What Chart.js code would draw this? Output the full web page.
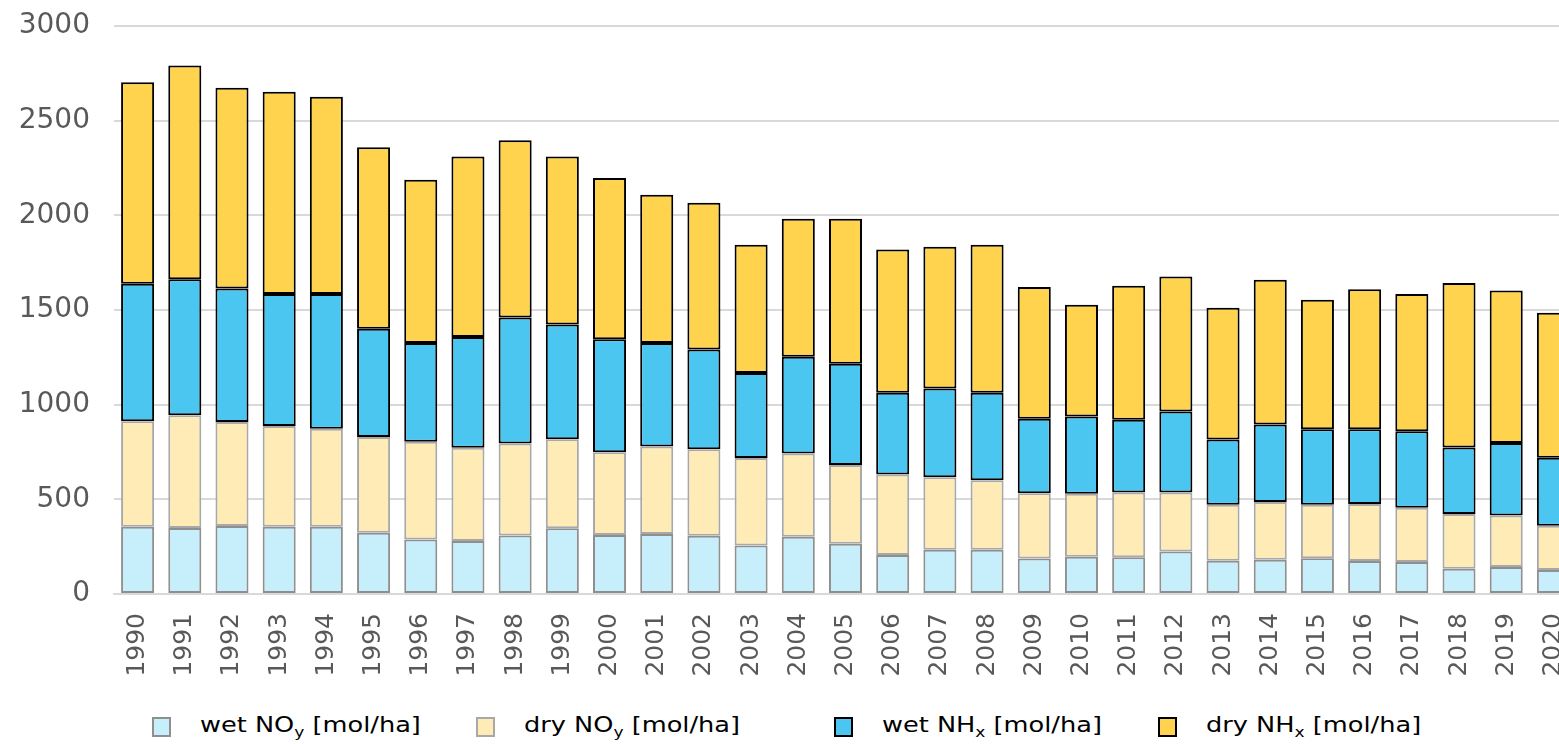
<!DOCTYPE html>
<html>
<head>
<meta charset="utf-8">
<script src="https://cdn.jsdelivr.net/npm/chart.js@4.4.1/dist/chart.umd.min.js"></script>
<style>
  body { margin: 0; background: #fff; overflow: hidden; width: 1559px; height: 744px; }
  #wrap { position: relative; width: 1577px; height: 690px; }
  #legend { position: absolute; left: 0; top: 712px; width: 1559px; height: 30px;
    font-family: "DejaVu Sans", sans-serif; font-size: 21px; color: #000; }
  .item { position: absolute; top: 0; white-space: nowrap; }
  .box { position: absolute; top: 5px; left: 0; width: 15px; height: 16px; border: 2px solid #000; }
  .txt { position: absolute; top: 0; line-height: 26px; transform: scaleX(1.22); transform-origin: 0 50%; }
  .txt sub { font-size: 14px; vertical-align: -5px; line-height: 0; }
</style>
</head>
<body>
<div id="wrap"><canvas id="chart"></canvas></div>
<div id="legend"></div>
<script>
// categories
const years = ["1990", "1991", "1992", "1993", "1994", "1995", "1996", "1997", "1998", "1999",
  "2000", "2001", "2002", "2003", "2004", "2005", "2006", "2007", "2008", "2009",
  "2010", "2011", "2012", "2013", "2014", "2015", "2016", "2017", "2018", "2019", "2020"];

// deposition per series, mol/ha
const wetNOy = [355, 349, 359, 355, 355, 324, 288, 280, 309, 347,
  312, 317, 307, 256, 303, 266, 206, 234, 234, 187,
  197, 194, 224, 176, 181, 189, 174, 169, 134, 143, 127];
const dryNOy = [557, 595, 549, 532, 518, 505, 516, 492, 486, 471,
  437, 462, 458, 462, 439, 415, 425, 383, 367, 345,
  332, 342, 312, 296, 305, 283, 302, 286, 289, 271, 234];
const wetNHx = [727, 718, 706, 698, 712, 572, 522, 585, 666, 606,
  596, 547, 526, 449, 511, 535, 432, 469, 462, 394,
  408, 384, 428, 344, 409, 398, 394, 405, 351, 384, 358];
const dryNHx = [1064, 1129, 1060, 1068, 1041, 958, 862, 954, 936, 887,
  852, 783, 775, 677, 729, 766, 756, 748, 781, 696,
  591, 708, 713, 696, 765, 684, 740, 724, 868, 805, 766];

// y axis
const yMin = 0;
const yMax = 3000;
const yStep = 500;

// legend text: base, subscript, unit
const seriesBase = ["wet NO", "dry NO", "wet NH", "dry NH"];
const seriesSub = ["y", "y", "x", "x"];
const unitText = " [mol/ha]";

const fills = ["#c6eefb", "#feebb6", "#4bc6f1", "#ffd34d"];
const borders = ["#8f8f8f", "#a8a8a8", "#000000", "#000000"];
const values = [wetNOy, dryNOy, wetNHx, dryNHx];

const datasets = values.map((vals, i) => ({
  label: seriesBase[i] + seriesSub[i] + unitText,
  data: vals,
  backgroundColor: fills[i],
  borderColor: borders[i],
  borderWidth: 2,
  borderSkipped: false,
  barPercentage: 0.7,
  categoryPercentage: 1.0,
}));

const tickColor = "#595959";
const gridColor = "#d9d9d9";

var ctx = document.getElementById("chart").getContext("2d");
var chart = new Chart(ctx, {
  type: "bar",
  data: { labels: years, datasets: datasets },
  options: {
    responsive: true,
    maintainAspectRatio: false,
    animation: false,
    layout: { padding: { top: 26, right: 0, left: 0, bottom: 0 } },
    plugins: {
      legend: { display: false },
      tooltip: { enabled: false },
    },
    scales: {
      x: {
        stacked: true,
        grid: { display: false, drawTicks: false },
        border: { display: true, color: gridColor, width: 2 },
        ticks: {
          color: tickColor,
          minRotation: 90,
          maxRotation: 90,
          padding: 19,
          autoSkip: false,
          font: { family: "DejaVu Sans", size: 25 },
        },
        afterFit: function (scale) {
          scale.height = 96;
          scale.paddingLeft = 0;
          scale.paddingRight = 0;
        },
      },
      y: {
        stacked: true,
        min: yMin,
        max: yMax,
        grid: { color: gridColor, lineWidth: 2, drawTicks: false },
        border: { display: false },
        ticks: {
          stepSize: yStep,
          color: tickColor,
          padding: 24,
          font: { family: "DejaVu Sans", size: 28 },
          callback: function (value) { return String(value); },
        },
        afterFit: function (scale) {
          scale.width = 114;
          scale.paddingTop = 0;
          scale.paddingBottom = 0;
        },
      },
    },
  },
});

// html legend so the subscripts stay real text
const legendLeft = [152, 476, 834, 1158];
const legendBox = document.getElementById("legend");
chart.data.datasets.forEach((ds, i) => {
  const item = document.createElement("div");
  item.className = "item";
  item.style.left = legendLeft[i] + "px";
  const box = document.createElement("span");
  box.className = "box";
  box.style.background = ds.backgroundColor;
  box.style.borderColor = ds.borderColor;
  const txt = document.createElement("span");
  txt.className = "txt";
  txt.style.left = "48px";
  txt.innerHTML = seriesBase[i] + "<sub>" + seriesSub[i] + "</sub>" + unitText;
  item.appendChild(box);
  item.appendChild(txt);
  legendBox.appendChild(item);
});
</script>
</body>
</html>
